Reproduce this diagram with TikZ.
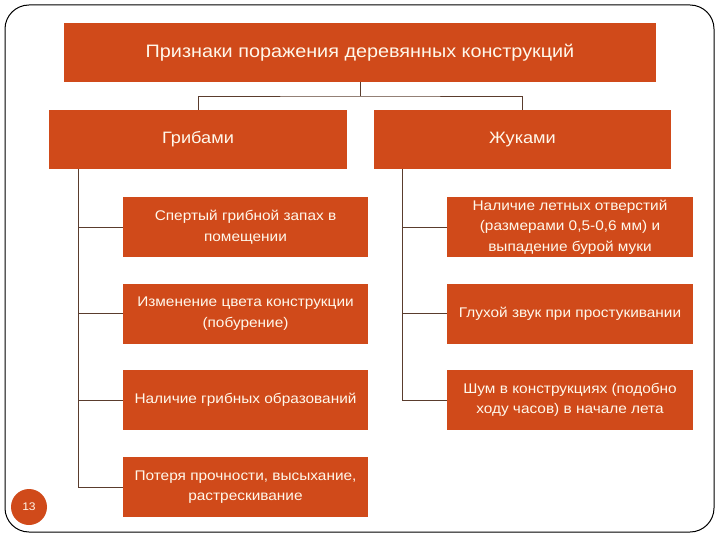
\documentclass[tikz,border=0pt]{standalone}
\usepackage{fontspec}
\setmainfont{Liberation Sans}[FakeStretch=1.1]
\definecolor{boxc}{RGB}{208,74,26}
\definecolor{linec}{RGB}{90,60,45}
\definecolor{txtc}{RGB}{255,248,235}
\tikzset{
  obox/.style={fill=boxc, draw=none, text=txtc, align=center, inner sep=0pt},
  conn/.style={draw=linec, line width=0.7pt},
}
\begin{document}
\begin{tikzpicture}[x=1pt,y=-1pt]
\useasboundingbox (0,0) rectangle (720,540);
\fill[white] (0,0) rectangle (720,540);
\draw[line width=1pt, rounded corners=24pt] (5,5) rectangle (714,532);

\node[obox, minimum width=592pt, minimum height=59pt, font=\fontsize{18}{21}\selectfont] (title) at (360,52.5) {Признаки поражения деревянных конструкций};

\node[obox, minimum width=298pt, minimum height=59pt, font=\fontsize{16.5}{19}\selectfont] (fung) at (198,139.5) {Грибами};
\node[obox, minimum width=297pt, minimum height=59pt, font=\fontsize{16.5}{19}\selectfont] (beet) at (522.5,139.5) {Жуками};

\tikzset{cbox/.style={obox, minimum width=245pt, minimum height=60pt, font=\fontsize{14}{20.5}\selectfont}}
\node[cbox] (f1) at (245.5,227) {Спертый грибной запах в\\помещении};
\node[cbox] (f2) at (245.5,313.5) {Изменение цвета конструкции\\(побурение)};
\node[cbox] (f3) at (245.5,400) {Наличие грибных образований};
\node[cbox] (f4) at (245.5,487) {Потеря прочности, высыхание,\\растрескивание};

\node[cbox, minimum width=246pt] (b1) at (570,227) {Наличие летных отверстий\\(размерами 0,5-0,6 мм) и\\выпадение бурой муки};
\node[cbox, minimum width=246pt] (b2) at (570,313.5) {Глухой звук при простукивании};
\node[cbox, minimum width=246pt] (b3) at (570,400) {Шум в конструкциях (подобно\\ходу часов) в начале лета};

\coordinate (mid) at (360,96);
\draw[conn] (title.south) -- (mid);
\draw[conn] (fung.north) |- (mid) -| (beet.north);

\coordinate (fl) at (78,169);
\coordinate (bl) at (402,169);
\draw[conn] (fl) |- (f4.west);
\draw[conn] (fl |- f1.west) -- (f1.west);
\draw[conn] (fl |- f2.west) -- (f2.west);
\draw[conn] (fl |- f3.west) -- (f3.west);
\draw[conn] (bl) |- (b3.west);
\draw[conn] (bl |- b1.west) -- (b1.west);
\draw[conn] (bl |- b2.west) -- (b2.west);

\node[circle, fill=boxc, minimum size=36pt, inner sep=0pt, text=txtc, font=\fontsize{11}{13}\selectfont] (pg) at (29,507) {13};
\end{tikzpicture}
\end{document}
